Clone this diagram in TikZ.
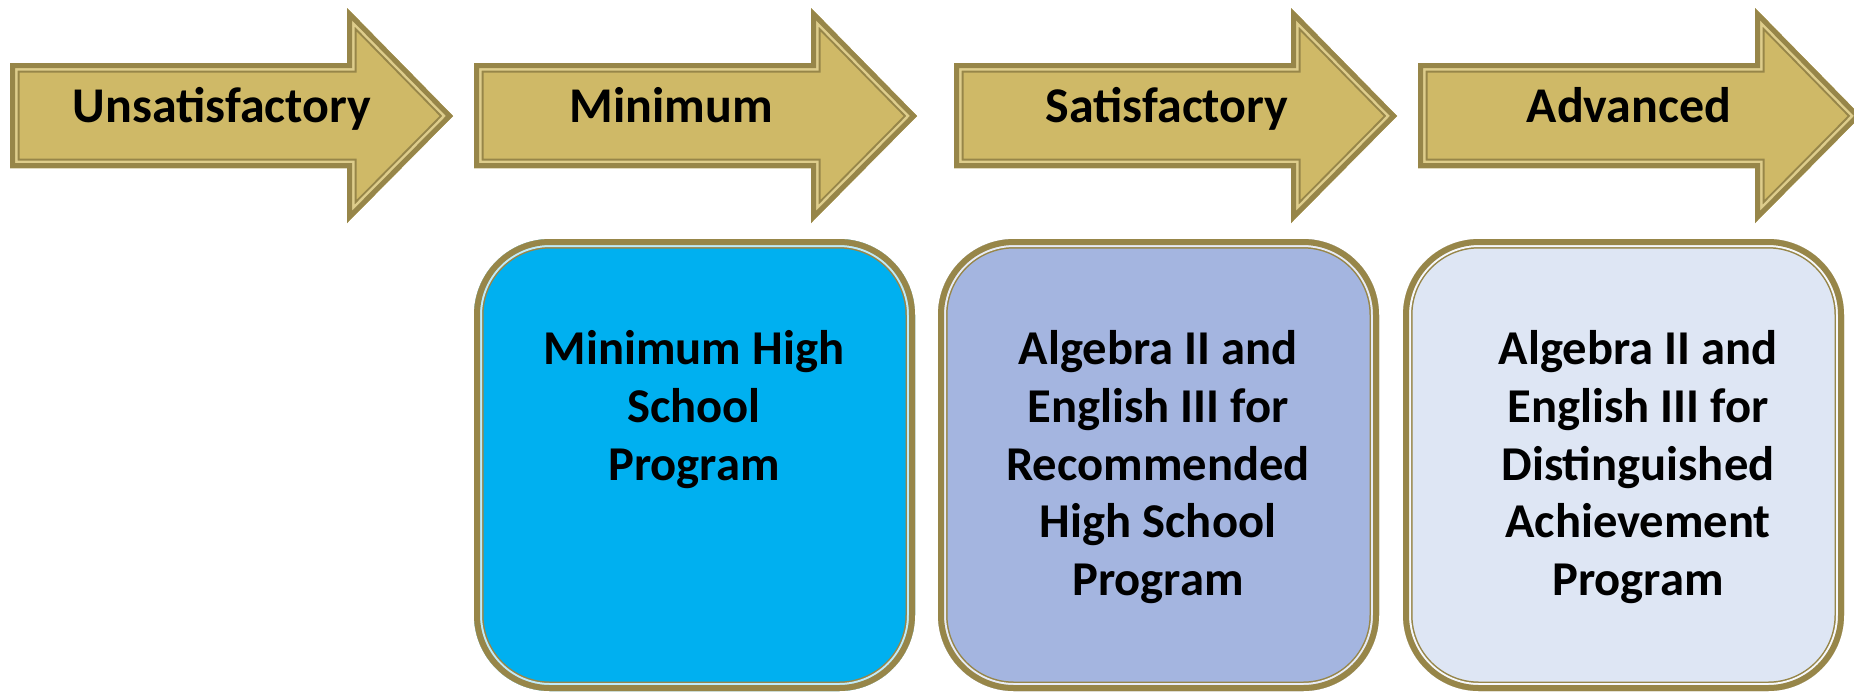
\documentclass[tikz,border=0pt]{standalone}
\usepackage{fontspec}
\setmainfont{Carlito}
\usepackage{tikz}

\definecolor{gold}{RGB}{207,185,103}
\definecolor{goldlight}{RGB}{222,205,140}
\definecolor{olive}{RGB}{151,134,73}
\definecolor{cyanbox}{RGB}{0,176,240}
\definecolor{bluebox}{RGB}{164,181,224}
\definecolor{palebox}{RGB}{222,230,244}
\tikzset{stage/.style={font=\bfseries\fontsize{25}{30}\selectfont,anchor=base,inner sep=0pt}}
\tikzset{prog/.style={font=\bfseries\fontsize{24.3}{28.9}\selectfont,align=center,anchor=north,inner sep=0pt}}

\begin{document}
\begin{tikzpicture}[x=0.5pt,y=-0.5pt]
	\useasboundingbox (0,0) rectangle (1854,693);
	\foreach \x in {10,474,954,1418}{
		\begin{scope}
			\path[save path=\stagepath] (\x,63) -- ++(337,0) -- ++(0,-55) -- ++(106,108)
				-- ++(-106,107) -- ++(0,-55) -- (\x,168) -- cycle;
			\clip[use path=\stagepath];
			\fill[gold,use path=\stagepath];
			\draw[olive,line width=9.5pt,use path=\stagepath];
			\draw[goldlight,line width=7.5pt,use path=\stagepath];
			\draw[olive,line width=5pt,use path=\stagepath];
		\end{scope}
	}
	\foreach \x/\c in {474/cyanbox,938/bluebox,1403/palebox}{
		\begin{scope}
			\path[save path=\progpath,rounded corners=38pt] (\x,239) rectangle ++(441,452);
			\clip[use path=\progpath];
			\fill[\c,use path=\progpath];
			\draw[olive,line width=9.5pt,use path=\progpath];
			\draw[\c!25!white,line width=8pt,use path=\progpath];
			\draw[olive,line width=6pt,use path=\progpath];
		\end{scope}
	}
	\node[stage] (unsat) at (222,122) {Unsatisfactory};
	\node[stage] (mini) at (671,122) {Minimum};
	\node[stage] (satis) at (1167,122) {Satisfactory};
	\node[stage] (adv) at (1629,122) {Advanced};
	
	\node[prog] (minprog) at (694,330) {Minimum High\\School\\Program};
	\node[prog] (recprog) at (1158,330) {Algebra II and\\English III for\\Recommended\\High School\\Program};
	\node[prog] (disprog) at (1638,330) {Algebra II and\\English III for\\Distinguished\\Achievement\\Program};
\end{tikzpicture}
\end{document}
